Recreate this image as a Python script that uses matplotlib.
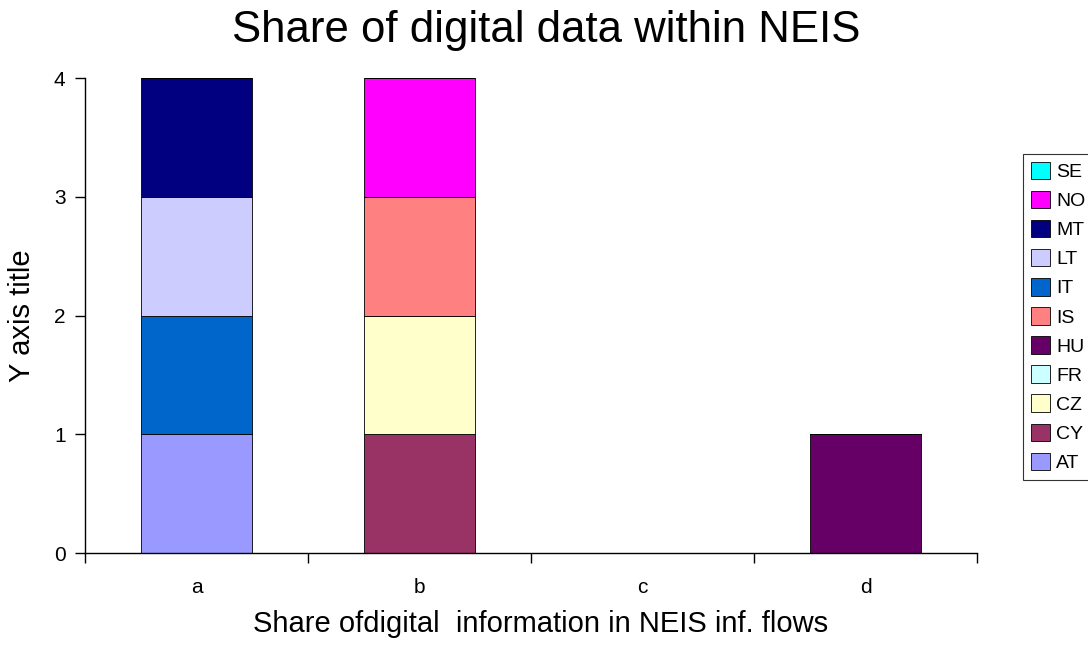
import matplotlib
matplotlib.use('Agg')
import numpy as np
import matplotlib.pyplot as plt

plt.rcParams['font.family'] = ['Liberation Sans', 'DejaVu Sans']

# Data
categories = ['a', 'b', 'c', 'd']
series_names = ['AT', 'CY', 'CZ', 'FR', 'HU', 'IS', 'IT', 'LT', 'MT', 'NO', 'SE']
series_values = {
    'AT': [1, 0, 0, 0],
    'CY': [0, 1, 0, 0],
    'CZ': [0, 1, 0, 0],
    'FR': [0, 0, 0, 0],
    'HU': [0, 0, 0, 1],
    'IS': [0, 1, 0, 0],
    'IT': [1, 0, 0, 0],
    'LT': [1, 0, 0, 0],
    'MT': [1, 0, 0, 0],
    'NO': [0, 1, 0, 0],
    'SE': [0, 0, 0, 0],
}
colors = {
    'AT': '#9999FF', 'CY': '#993366', 'CZ': '#FFFFCC', 'FR': '#CCFFFF',
    'HU': '#660066', 'IS': '#FF8080', 'IT': '#0066CC', 'LT': '#CCCCFF',
    'MT': '#000080', 'NO': '#FF00FF', 'SE': '#00FFFF',
}
y_ticks = [0, 1, 2, 3, 4]

W, H = 1088, 645
fig = plt.figure(figsize=(W / 100, H / 100), dpi=100)
ax = fig.add_axes([0.0781, 0.1426, 0.82, 0.7364])

x = np.arange(len(categories))
bottom = np.zeros(len(categories))
handles = []
for name in series_names:
    vals = np.array(series_values[name], dtype=float)
    h = ax.bar(x, vals, width=0.5, bottom=bottom, color=colors[name],
               edgecolor='black', linewidth=0.6, label=name)
    handles.append(h)
    bottom += vals

ax.set_xlim(-0.5, len(categories) - 0.5)
ax.set_ylim(0, 4)
ax.set_yticks(y_ticks)
ax.set_xticks(x)
ax.set_xticklabels(categories)
# tick marks sit between the categories, like the Excel original
ax.set_xticks(np.arange(-0.5, len(categories)), minor=True)
ax.tick_params(axis='x', which='major', length=0, pad=18, labelsize=15)
ax.tick_params(axis='x', which='minor', length=7, width=1, direction='out')
ax.tick_params(axis='y', length=7, width=1, direction='out', labelsize=15, pad=7)
ax.spines['top'].set_visible(False)
ax.spines['right'].set_visible(False)
ax.spines['left'].set_linewidth(1)
ax.spines['bottom'].set_linewidth(1)

# title is centred on the whole chart area, not just the plot
fig.text(546 / W, 1 - 42 / H, 'Share of digital data within NEIS', fontsize=31.5,
         ha='center', va='baseline')
ax.set_xlabel('Share ofdigital  information in NEIS inf. flows', fontsize=21, labelpad=9)
ax.xaxis.label.set_x((541 - 85) / (977 - 85))
ax.set_ylabel('Y axis title', fontsize=21, labelpad=13)

leg = fig.legend(handles[::-1], series_names[::-1], loc='upper left',
                 bbox_to_anchor=(1023 / W, 1 - 154 / H), fontsize=14,
                 frameon=True, fancybox=False, edgecolor='black',
                 handlelength=1.0, handleheight=1.0, handletextpad=0.3,
                 labelspacing=0.5, borderpad=0.4, borderaxespad=0)
leg.get_frame().set_linewidth(0.8)

fig.savefig('out.png', dpi=100)
